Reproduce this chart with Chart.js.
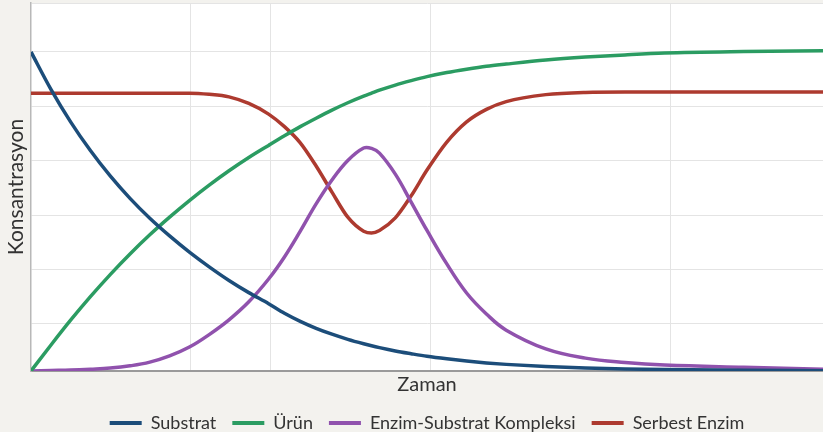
<!DOCTYPE html>
<html>
<head>
<meta charset="utf-8">
<script src="https://cdn.jsdelivr.net/npm/chart.js@4/dist/chart.umd.min.js"></script>
<style>
  html, body { margin: 0; padding: 0; background: #f3f2ee; }
  #wrap { width: 823px; height: 432px; position: relative; }
</style>
</head>
<body>
<div id="wrap"><canvas id="c"></canvas></div>
<script>
// time axis (arbitrary units)
const zaman = [0, 2.5, 5, 7.5, 10, 12.5, 15, 17.5, 20, 22.5, 25, 27.5, 30, 32, 34, 36, 38, 40, 42, 43, 44, 46, 48, 50, 52.5, 55, 57.5, 60, 65, 70, 75, 80, 90, 100];

const substrat = [86.7, 76.6, 67.7, 59.9, 53.0, 46.9, 41.5, 36.7, 32.3, 28.3, 24.6, 21.3, 18.3, 15.7, 13.5, 11.6, 10.0, 8.6, 7.4, 6.85, 6.35, 5.45, 4.7, 4.0, 3.3, 2.7, 2.2, 1.8, 1.2, 0.8, 0.55, 0.4, 0.2, 0.1];
const urun = [0, 7.0, 13.8, 20.2, 26.2, 31.8, 37.0, 41.8, 46.3, 50.5, 54.4, 58.0, 61.3, 63.9, 66.4, 68.7, 70.9, 72.9, 74.7, 75.5, 76.3, 77.7, 78.9, 80.0, 81.1, 82.0, 82.8, 83.4, 84.5, 85.3, 85.9, 86.4, 86.8, 87.0];
const kompleks = [0, 0.14, 0.27, 0.5, 0.8, 1.4, 2.4, 4.1, 6.5, 9.9, 13.9, 18.8, 25.0, 31.0, 38.0, 45.4, 51.9, 57.2, 60.6, 60.5, 59.2, 53.5, 45.9, 38.2, 29.1, 21.2, 15.5, 11.1, 6.0, 3.5, 2.3, 1.6, 1.0, 0.5];
const serbestEnzim = [75.5, 75.5, 75.5, 75.5, 75.5, 75.5, 75.5, 75.5, 75.5, 75.2, 74.5, 72.7, 69.8, 66.4, 62.0, 55.7, 48.6, 41.8, 38.0, 37.5, 38.2, 41.6, 47.6, 54.6, 62.2, 67.7, 71.1, 73.2, 75.1, 75.7, 75.8, 75.8, 75.8, 75.8];

// grid positions (no tick labels shown)
const xGrid = [20.2, 30.3, 50.4, 80.7];
const yGrid = [12.8, 27.5, 42.3, 57.1, 71.9, 86.7, 100];

const seriesNames = ["Substrat", "Ürün", "Enzim-Substrat Kompleksi", "Serbest Enzim"];
const seriesColors = ["#1c4d7a", "#2b9c62", "#9052ad", "#ad3a2f"];
// monotone avoids overshoot on the flat parts; the complex peak uses plain bezier
const seriesCurve = ["monotone", "monotone", "default", "monotone"];

function pts(vals) {
    return zaman.map((t, i) => ({ x: t, y: vals[i] }));
}

const plotBg = {
    id: "plotBg",
    beforeDraw(chart) {
        const a = chart.chartArea;
        const ctx = chart.ctx;
        ctx.save();
        ctx.fillStyle = "#ffffff";
        ctx.fillRect(a.left, a.top, a.right - a.left, a.bottom - a.top);
        ctx.restore();
    },
};

const font = "Lato, 'Open Sans', sans-serif";

new Chart(document.getElementById("c"), {
    type: "line",
    data: {
        datasets: [substrat, urun, kompleks, serbestEnzim].map((vals, i) => ({
            label: seriesNames[i],
            data: pts(vals),
            borderColor: seriesColors[i],
            backgroundColor: seriesColors[i],
            borderWidth: 3.5,
            pointRadius: 0,
            cubicInterpolationMode: seriesCurve[i],
            tension: 0.4,
            fill: false,
        })),
    },
    options: {
        responsive: true,
        maintainAspectRatio: false,
        animation: false,
        layout: { padding: { left: 0, right: 0, top: 3, bottom: -10 } },
        scales: {
            x: {
                type: "linear",
                min: 0,
                max: 100,
                afterBuildTicks: (s) => { s.ticks = xGrid.map((v) => ({ value: v })); },
                ticks: { display: false },
                grid: { color: "#e4e4e4", lineWidth: 1, drawTicks: false },
                border: { color: "#9a9a9a", width: 2 },
                title: {
                    display: true,
                    text: "Zaman",
                    color: "#333333",
                    font: { family: font, size: 20, lineHeight: 1 },
                    padding: { top: 4, bottom: 3 },
                },
            },
            y: {
                min: 0,
                max: 100,
                afterBuildTicks: (s) => { s.ticks = yGrid.map((v) => ({ value: v })); },
                ticks: { display: false },
                grid: { color: "#e4e4e4", lineWidth: 1, drawTicks: false },
                border: { color: "#b8b8b8", width: 1.5 },
                title: {
                    display: true,
                    text: "Konsantrasyon",
                    color: "#333333",
                    font: { family: font, size: 21, lineHeight: 1 },
                    padding: { top: 6, bottom: 4 },
                },
            },
        },
        plugins: {
            legend: {
                position: "bottom",
                fullSize: false,
                labels: {
                    color: "#333333",
                    font: { family: font, size: 18 },
                    boxWidth: 32,
                    boxHeight: 4,
                    padding: 16,
                    generateLabels: (chart) => {
                        const items = Chart.defaults.plugins.legend.labels.generateLabels(chart);
                        items.forEach((it) => {
                            it.fillStyle = it.strokeStyle;
                            it.lineWidth = 0;
                        });
                        return items;
                    },
                },
            },
            tooltip: { enabled: false },
        },
    },
    plugins: [plotBg],
});
</script>
</body>
</html>
